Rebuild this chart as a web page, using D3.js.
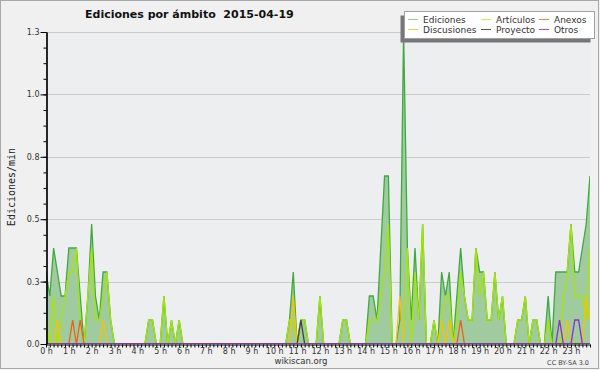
<!DOCTYPE html>
<html>
<head>
<meta charset="utf-8">
<script src="https://cdn.jsdelivr.net/npm/d3@7"></script>
<style>
  html, body { margin: 0; padding: 0; background: #f0f0f0; }
  svg { display: block; font-family: "DejaVu Sans", sans-serif; }
</style>
</head>
<body>
<svg id="chart" width="600" height="370"></svg>
<script>
// edits per minute, one value every 10 minutes (12 values per line = 2 hours)
const ediciones = [
  0.3,0.2,0.4,0.3,0.2,0.2, 0.4,0.4,0.4,0.2,0,0.2,
  0.5,0.2,0.1,0.3,0.3,0.1, 0,0,0,0,0,0,
  0,0,0,0.1,0.1,0, 0,0.2,0,0.1,0,0.1,
  0,0,0,0,0,0, 0,0,0,0,0,0,
  0,0,0,0,0,0, 0,0,0,0,0,0,
  0,0,0,0,0.1,0.3, 0,0.1,0.1,0,0,0,
  0.2,0,0,0,0,0, 0.1,0.1,0,0,0,0,
  0,0.2,0.2,0.1,0.4,0.7, 0.7,0,0,0.1,1.3,0.4,
  0.1,0.4,0.1,0.5,0,0, 0.1,0,0.3,0.2,0.3,0,
  0.2,0.4,0.2,0.1,0.1,0.4, 0.3,0.3,0.1,0.1,0.3,0.1,
  0.2,0,0,0,0.1,0.1, 0.2,0,0.1,0.1,0,0,
  0.2,0,0.3,0.3,0.3,0.3, 0.5,0.3,0.3,0.4,0.5,0.7
];
const articulos = [
  0.1,0,0.2,0,0.1,0.2, 0.3,0.3,0.4,0.1,0,0.2,
  0.4,0.1,0.1,0.2,0.3,0.1, 0,0,0,0,0,0,
  0,0,0,0.1,0.1,0, 0,0.2,0,0.1,0,0.1,
  0,0,0,0,0,0, 0,0,0,0,0,0,
  0,0,0,0,0,0, 0,0,0,0,0,0,
  0,0,0,0,0.1,0.1, 0,0.1,0.1,0,0,0,
  0.2,0,0,0,0,0, 0.1,0.1,0,0,0,0,
  0,0.1,0.1,0.1,0.2,0.3, 0.5,0,0,0,0,0.4,
  0,0.3,0.1,0.5,0,0, 0.1,0,0.1,0.2,0.2,0,
  0.1,0.3,0.2,0.1,0.1,0.4, 0.2,0.3,0.1,0.1,0.3,0.1,
  0.2,0,0,0,0.1,0.1, 0.2,0,0.1,0.1,0,0,
  0.1,0,0,0,0.2,0.3, 0.5,0.2,0.2,0.2,0.1,0.4
];
const anexos = [
  0,0,0,0,0,0, 0,0.1,0,0.1,0,0,
  0,0,0,0,0,0, 0,0,0,0,0,0,
  0,0,0,0,0,0, 0,0,0,0,0,0,
  0,0,0,0,0,0, 0,0,0,0,0,0,
  0,0,0,0,0,0, 0,0,0,0,0,0,
  0,0,0,0,0,0, 0,0,0,0,0,0,
  0,0,0,0,0,0, 0,0,0,0,0,0,
  0,0,0,0,0,0, 0,0,0,0,0,0,
  0,0,0,0,0,0, 0,0,0,0,0,0,
  0,0.1,0,0,0,0, 0,0,0,0,0,0,
  0,0,0,0,0,0, 0,0,0,0,0,0,
  0,0,0,0,0,0, 0,0,0,0,0,0
];
const discusiones = [
  0,0,0,0.1,0,0, 0,0,0,0,0,0,
  0,0,0,0.1,0,0, 0,0,0,0,0,0,
  0,0,0,0,0,0, 0,0,0,0,0,0,
  0,0,0,0,0,0, 0,0,0,0,0,0,
  0,0,0,0,0,0, 0,0,0,0,0,0,
  0,0,0,0,0,0.2, 0,0,0,0,0,0,
  0,0,0,0,0,0, 0,0,0,0,0,0,
  0,0,0,0,0,0, 0,0,0,0.2,0,0,
  0,0,0,0,0,0, 0,0,0.1,0,0.1,0,
  0,0,0,0,0,0, 0,0,0,0,0,0,
  0,0,0,0,0,0, 0,0,0,0,0,0,
  0,0,0,0,0,0.1, 0,0,0,0,0.2,0.1
];
const proyecto = [
  0,0,0,0,0,0, 0,0,0,0,0,0,
  0,0,0,0,0,0, 0,0,0,0,0,0,
  0,0,0,0,0,0, 0,0,0,0,0,0,
  0,0,0,0,0,0, 0,0,0,0,0,0,
  0,0,0,0,0,0, 0,0,0,0,0,0,
  0,0,0,0,0,0, 0,0.1,0,0,0,0,
  0,0,0,0,0,0, 0,0,0,0,0,0,
  0,0,0,0,0,0, 0,0,0,0,0,0,
  0,0,0,0,0,0, 0,0,0,0,0,0,
  0,0,0,0,0,0, 0,0,0,0,0,0,
  0,0,0,0,0,0, 0,0,0,0,0,0,
  0,0,0,0,0,0, 0,0,0,0,0,0
];
const otros = [
  0,0,0,0,0,0, 0,0,0,0,0,0,
  0,0,0,0,0,0, 0,0,0,0,0,0,
  0,0,0,0,0,0, 0,0,0,0,0,0,
  0,0,0,0,0,0, 0,0,0,0,0,0,
  0,0,0,0,0,0, 0,0,0,0,0,0,
  0,0,0,0,0,0, 0,0,0,0,0,0,
  0,0,0,0,0,0, 0,0,0,0,0,0,
  0,0,0,0,0,0, 0,0,0,0,0,0,
  0,0,0,0,0,0, 0,0,0,0,0,0,
  0,0,0,0,0,0, 0,0,0,0,0,0,
  0,0,0,0,0,0, 0,0,0,0,0,0,
  0,0,0,0.1,0,0, 0,0.1,0.1,0,0,0
];

const hourLabels = ['0 h','1 h','2 h','3 h','4 h','5 h','6 h','7 h','8 h','9 h','10 h','11 h',
  '12 h','13 h','14 h','15 h','16 h','17 h','18 h','19 h','20 h','21 h','22 h','23 h'];
const yTickValues = [0, 0.26, 0.52, 0.78, 1.04, 1.3];
const legendItems = [
  { name: 'Ediciones', color: '#8fd18f' },
  { name: 'Artículos', color: '#c6ef4a' },
  { name: 'Anexos', color: '#f0804a' },
  { name: 'Discusiones', color: '#f7cf4a' },
  { name: 'Proyecto', color: '#555555' },
  { name: 'Otros', color: '#9a4cf0' }
];

const svg = d3.select('#chart');
const plot = { left: 46, right: 590, top: 32, bottom: 344 };

const x = d3.scaleLinear().domain([0, ediciones.length - 1]).range([plot.left, plot.right]);
const y = d3.scaleLinear().domain([0, 1.3]).range([plot.bottom, plot.top]);

// background + frame
svg.append('rect').attr('x', 0).attr('y', 0).attr('width', 600).attr('height', 370).attr('fill', '#f0f0f0');
svg.append('rect').attr('x', 0.5).attr('y', 0.5).attr('width', 598).attr('height', 368)
  .attr('fill', 'none').attr('stroke', '#a8a8a8');

svg.append('rect')
  .attr('x', plot.left).attr('y', plot.top)
  .attr('width', plot.right - plot.left).attr('height', plot.bottom - plot.top)
  .attr('fill', '#edeef0');

// grid
svg.append('g').selectAll('line')
  .data(yTickValues.filter(d => d > 0)).enter().append('line')
  .attr('x1', plot.left).attr('x2', plot.right)
  .attr('y1', d => Math.round(y(d)) + 0.5).attr('y2', d => Math.round(y(d)) + 0.5)
  .attr('stroke', '#cbcbcb');

svg.append('clipPath').attr('id', 'clip').append('rect')
  .attr('x', plot.left).attr('y', plot.top)
  .attr('width', plot.right - plot.left).attr('height', plot.bottom - plot.top);

const g = svg.append('g').attr('clip-path', 'url(#clip)');

const area = d3.area().x((d, i) => x(i)).y0(y(0)).y1(d => y(d));
const line = d3.line().x((d, i) => x(i)).y(d => y(d));

g.append('path').datum(ediciones).attr('d', area).attr('fill', '#9fcb9f');
g.append('path').datum(ediciones).attr('d', line)
  .attr('fill', 'none').attr('stroke', '#3faa3f').attr('stroke-width', 1.3);

const series = [
  { data: articulos, color: '#a6e600' },
  { data: discusiones, color: '#f5c400' },
  { data: anexos, color: '#ee6018' },
  { data: proyecto, color: '#404040' },
  { data: otros, color: '#8a2be2' }
];
series.forEach(s => {
  g.append('path').datum(s.data).attr('d', line)
    .attr('fill', 'none').attr('stroke', s.color).attr('stroke-width', 1.3)
    .attr('stroke-linejoin', 'miter');
});

// axes
const yAxis = d3.axisLeft(y).tickValues(yTickValues).tickFormat(d3.format('.1f'))
  .tickSize(6).tickSizeOuter(0).tickPadding(1);
const yMinor = d3.axisLeft(y).tickValues(d3.range(0, 1.3001, 0.065)).tickFormat('')
  .tickSize(3).tickSizeOuter(0);
const xAxis = d3.axisBottom(x).tickValues(d3.range(0, ediciones.length))
  .tickFormat(i => i % 6 === 0 ? hourLabels[i / 6] : '')
  .tickSize(3).tickSizeOuter(0).tickPadding(1);

const gyMinor = svg.append('g').attr('transform', `translate(${plot.left + 0.5},0)`).call(yMinor);
const gy = svg.append('g').attr('transform', `translate(${plot.left + 0.5},0)`).call(yAxis);
const gx = svg.append('g').attr('transform', `translate(0,${plot.bottom + 0.5})`).call(xAxis);

[gy, gyMinor, gx].forEach(a => {
  a.selectAll('.domain').attr('stroke', '#000').attr('stroke-width', 1.2);
  a.selectAll('.tick line').attr('stroke', '#000');
  a.selectAll('text').attr('font-family', '"DejaVu Sans", sans-serif')
    .attr('font-size', 8).attr('fill', '#333');
});

// title
svg.append('text').attr('x', 85).attr('y', 17.5)
  .attr('font-size', 11).attr('font-weight', 'bold').attr('fill', '#111')
  .attr('xml:space', 'preserve')
  .text('Ediciones por ámbito  2015-04-19');

// y axis title
svg.append('text')
  .attr('transform', 'translate(15,187) rotate(-90)')
  .attr('text-anchor', 'middle')
  .attr('font-family', '"DejaVu Sans Mono", monospace')
  .attr('font-size', 10).attr('fill', '#222')
  .text('Ediciones/min');

// footer
svg.append('text').attr('x', 301).attr('y', 364).attr('text-anchor', 'middle')
  .attr('font-size', 8.5).attr('fill', '#333').text('wikiscan.org');
svg.append('text').attr('x', 589).attr('y', 364.5).attr('text-anchor', 'end')
  .attr('font-size', 6.5).attr('fill', '#444').text('CC BY-SA 3.0');

// legend
const lg = svg.append('g');
lg.append('rect').attr('x', 400.5).attr('y', 15.5).attr('width', 190).attr('height', 27).attr('fill', '#777');
lg.append('rect').attr('x', 404.5).attr('y', 11.5).attr('width', 190).attr('height', 27)
  .attr('fill', '#fff').attr('stroke', '#a0a0a0');
const colX = [408, 481, 539];
const rowY = [19.5, 29.5];
legendItems.forEach((d, i) => {
  const cx = colX[i % 3], cy = rowY[Math.floor(i / 3)];
  lg.append('line').attr('x1', cx).attr('x2', cx + 10).attr('y1', cy).attr('y2', cy)
    .attr('stroke', d.color).attr('stroke-width', 1);
  lg.append('text').attr('x', cx + 15).attr('y', cy + 3.3)
    .attr('font-size', 9).attr('fill', '#333').text(d.name);
});
</script>
</body>
</html>
